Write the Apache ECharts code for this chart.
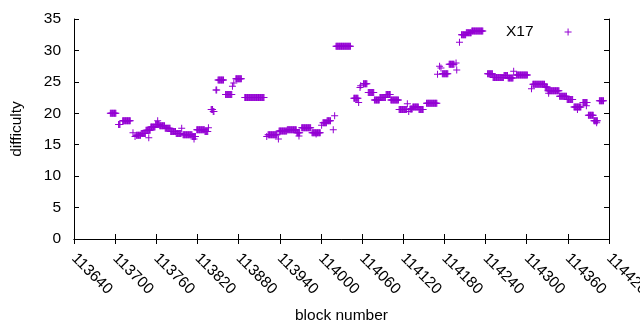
<!DOCTYPE html>
<html>
<head>
<meta charset="utf-8">
<script src="https://cdn.jsdelivr.net/npm/echarts@6/dist/echarts.min.js"></script>
<style>
  html, body { margin: 0; padding: 0; background: #fff; }
  #chart { width: 640px; height: 330px; }
</style>
</head>
<body>
<div id="chart"></div>
<script>
// consecutive blocks that share one difficulty: [first block, last block, difficulty]
var runs = [
  [113693, 113701, 20.0], [113705, 113707, 18.2], [113711, 113722, 18.8],
  [113731, 113737, 16.5], [113738, 113744, 16.8], [113745, 113751, 17.3],
  [113752, 113758, 17.8], [113759, 113764, 18.2], [113765, 113772, 18.0],
  [113773, 113780, 17.6], [113781, 113788, 17.1], [113789, 113796, 16.8],
  [113799, 113812, 16.6], [113813, 113817, 16.3], [113819, 113830, 17.4],
  [113831, 113835, 17.1], [113840, 113842, 20.6], [113843, 113844, 20.3],
  [113847, 113848, 23.7], [113850, 113858, 25.3], [113861, 113870, 23.0],
  [113876, 113884, 25.5], [113889, 113917, 22.5],
  [113923, 113936, 16.6], [113939, 113950, 17.2], [113951, 113964, 17.4],
  [113965, 113969, 16.9], [113972, 113985, 17.7], [113987, 113999, 16.9],
  [114003, 114008, 18.5], [114009, 114014, 18.8],
  [114022, 114043, 30.65], [114048, 114054, 22.4], [114062, 114067, 24.7],
  [114069, 114077, 23.3], [114078, 114085, 22.1], [114086, 114094, 22.5],
  [114095, 114101, 23.0], [114102, 114113, 22.1], [114114, 114125, 20.6],
  [114130, 114133, 20.7], [114134, 114142, 21.0], [114143, 114149, 20.6],
  [114154, 114169, 21.6], [114177, 114185, 26.3], [114187, 114194, 27.8],
  [114205, 114211, 32.5], [114212, 114219, 32.8], [114220, 114236, 33.1],
  [114243, 114250, 26.3], [114251, 114266, 25.7], [114267, 114272, 26.0],
  [114273, 114280, 25.6], [114285, 114301, 26.1], [114309, 114326, 24.6],
  [114327, 114330, 24.2], [114331, 114347, 23.6], [114348, 114358, 22.7],
  [114359, 114367, 22.2], [114369, 114379, 21.0], [114382, 114388, 21.7],
  [114390, 114397, 19.7], [114398, 114403, 18.8], [114406, 114412, 22.0]
];

// blocks standing on their own: [block, difficulty]
var singles = [
  [113726, 16.9], [113729, 16.3], [113749, 16.1], [113762, 18.8],
  [113797, 17.6], [113815, 15.9], [113836, 17.7],
  [113871, 24.3], [113873, 24.8], [113921, 16.3], [113938, 15.9],
  [113968, 16.4], [113993, 16.7], [114001, 18.1], [114018, 17.4],
  [114020, 19.6], [114055, 21.7], [114057, 24.1], [114058, 24.4],
  [114126, 21.5], [114128, 20.3], [114170, 26.2], [114173, 27.5],
  [114175, 27.2], [114197, 28.0], [114198, 26.9], [114202, 31.3],
  [114281, 26.7], [114307, 23.9], [114332, 23.2], [114374, 20.6],
  [114387, 21.2], [114402, 18.5]
];

var xMin = 113640, xMax = 114420, xStep = 60;
var yMin = 0, yMax = 35, yStep = 5;

var points = [];
runs.forEach(function (r) {
  for (var b = r[0]; b <= r[1]; b++) points.push([b, r[2]]);
});
singles.forEach(function (s) { points.push(s); });

var plus = 'path://M3,0H4V3H7V4H4V7H3V4H0V3H3Z';
var font = 'Liberation Sans';
var purple = '#9400d3';

var chart = echarts.init(document.getElementById('chart'), null, { renderer: 'canvas' });

var frameLine = { show: true, lineStyle: { color: '#000', width: 1 } };
var innerTick = { show: true, inside: true, length: 5, lineStyle: { color: '#000' } };
var plain = function (v) { return String(v); };

chart.setOption({
  animation: false,
  textStyle: { fontFamily: font },
  grid: { left: 74, right: 31, top: 19, bottom: 91, outerBoundsMode: 'none', containLabel: false },
  legend: {
    data: ['X17'],
    left: 501,
    top: 19,
    align: 'right',
    icon: plus,
    itemWidth: 59,
    itemHeight: 7,
    symbolKeepAspect: true,
    textStyle: { fontSize: 15.5, color: '#000', fontFamily: font }
  },
  xAxis: [
    {
      type: 'value', position: 'bottom',
      min: xMin, max: xMax, interval: xStep,
      axisLine: frameLine, axisTick: innerTick, splitLine: { show: false },
      axisLabel: { rotate: -45, margin: 17, fontSize: 15.5, color: '#000', fontFamily: font, formatter: plain },
      name: 'block number', nameLocation: 'middle', nameGap: 69,
      nameTextStyle: { fontSize: 15.5, color: '#000', fontFamily: font }
    },
    {
      type: 'value', position: 'top',
      min: xMin, max: xMax, interval: xStep,
      axisLine: frameLine, axisTick: innerTick, splitLine: { show: false },
      axisLabel: { show: false }
    }
  ],
  yAxis: [
    {
      type: 'value', position: 'left',
      min: yMin, max: yMax, interval: yStep,
      axisLine: frameLine, axisTick: innerTick, splitLine: { show: false },
      axisLabel: { margin: 13, fontSize: 15.5, color: '#000', fontFamily: font, formatter: plain },
      name: 'difficulty', nameLocation: 'middle', nameGap: 49,
      nameTextStyle: { fontSize: 15.5, color: '#000', fontFamily: font }
    },
    {
      type: 'value', position: 'right',
      min: yMin, max: yMax, interval: yStep,
      axisLine: frameLine, axisTick: innerTick, splitLine: { show: false },
      axisLabel: { show: false }
    }
  ],
  series: [
    {
      name: 'X17',
      type: 'scatter',
      xAxisIndex: 0,
      yAxisIndex: 0,
      symbol: plus,
      symbolSize: 7,
      itemStyle: { color: purple, opacity: 1 },
      data: points
    }
  ]
});
</script>
</body>
</html>
